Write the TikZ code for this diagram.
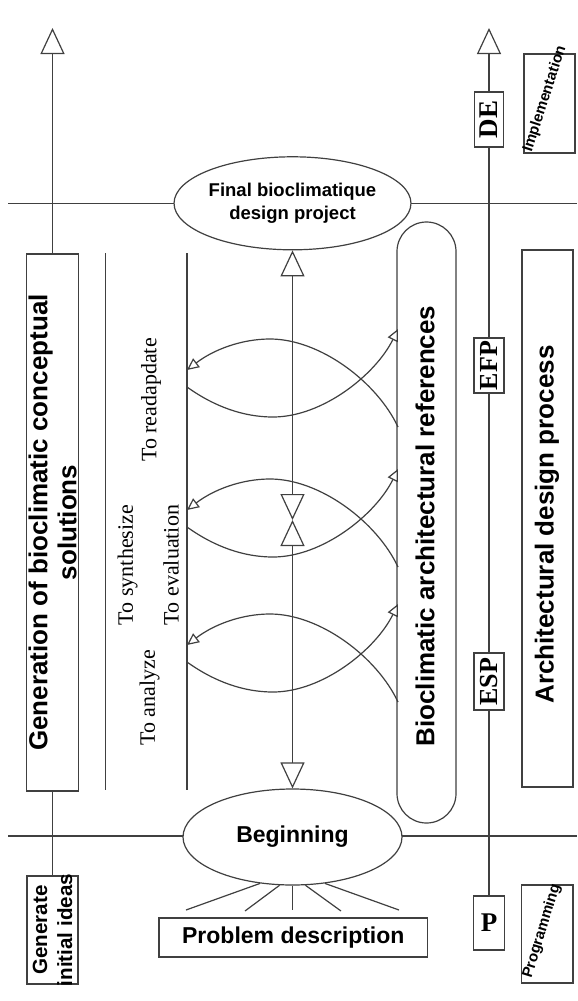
\documentclass[tikz,border=0pt]{standalone}
\usepackage{fontspec}
\setmainfont{Liberation Serif}
\setsansfont{Liberation Sans}
\usetikzlibrary{arrows.meta,shapes.geometric}
\pgfdeclarelayer{bg}
\pgfsetlayers{bg,main}
\newcommand\myss[2]{\sffamily\bfseries\fontsize{#1}{#2}\selectfont}
\newcommand\myrm[1]{\rmfamily\fontsize{#1}{#1}\selectfont}
\newcommand\myrb[1]{\rmfamily\bfseries\fontsize{#1}{#1}\selectfont}
\begin{document}
\begin{tikzpicture}[x=1pt,y=-1pt,
  ln/.style={draw=black!75,line width=1.2pt},
  box/.style={ln,fill=white,inner sep=0pt},
  txt/.style={inner sep=0pt,text=black},
  bigtip/.style={-{Triangle[length=26pt,width=24pt,fill=white]}},
  dbltip/.style={{Triangle[length=26pt,width=24pt,fill=white]}-{Triangle[length=26pt,width=24pt,fill=white]}},
  smalltip/.style={-{Triangle[length=12pt,width=11pt,fill=white]}}]
\useasboundingbox (0,0) rectangle (578,1001);

% ellipses
\node[box,ellipse,minimum width=219,minimum height=93,align=center,font=\myss{18.5}{23}] (final) at (292.5,203.3) {Final bioclimatique\\design project};
\node[box,ellipse,minimum width=219,minimum height=96,font=\myss{23}{27}] (begin) at (292.5,837) {Beginning};

% left column
\node[box,minimum width=51.6,minimum height=537] (gen) at (52.5,522.5) {};
\node[txt,rotate=90,align=center,font=\myss{26}{29}] (gentxt) at (52.5,522.5) {Generation of bioclimatic conceptual\\solutions};
\node[box,minimum width=51,minimum height=108] (ginit) at (52.5,930) {};
\node[txt,rotate=90,align=center,font=\myss{20.6}{25}] (ginittxt) at (52.5,930) {Generate\\initial ideas};

% references box
\node[box,rounded corners=29.5pt,minimum width=59,minimum height=601] (refs) at (426.5,522.5) {};
\node[txt,rotate=90,font=\myss{26}{29}] (refstxt) at (425,526) {Bioclimatic architectural references};

% architectural design process
\node[box,minimum width=51,minimum height=537] (arch) at (547.5,518.5) {};
\node[txt,rotate=90,font=\myss{26}{29}] (archtxt) at (547,524.5) {Architectural design process};

% right axis boxes
\node[box,minimum width=29.5,minimum height=55] (DE) at (489,119.5) {};
\node[txt,rotate=90,font=\myrb{27}] (DEtxt) at (489,119.5) {DE};
\node[box,minimum width=30,minimum height=55] (EFP) at (489,365.5) {};
\node[txt,rotate=90,font=\myrb{26}] (EFPtxt) at (489,365.5) {EFP};
\node[box,minimum width=30,minimum height=57] (ESP) at (489,681.5) {};
\node[txt,rotate=90,font=\myrb{26}] (ESPtxt) at (489,681.5) {ESP};
\node[box,minimum width=31,minimum height=54,font=\myrb{27}] (P) at (489,923) {P};

% implementation / programming
\node[box,minimum width=51,minimum height=99] (impl) at (549.5,103.5) {};
\node[txt,rotate=72,font=\myss{15}{17}] (impltxt) at (545,99) {Implementation};
\node[box,minimum width=51.4,minimum height=98] (prog) at (547.3,934) {};
\node[txt,rotate=73,font=\myss{15}{17}] (progtxt) at (542,931) {Programming};

% problem description
\node[box,minimum width=268.6,minimum height=39,font=\myss{23}{27}] (prob) at (293.3,937.5) {Problem description};

% labels
\node[txt,rotate=90,font=\myrm{22}] (l1) at (151,400) {To readapdate};
\node[txt,rotate=90,font=\myrm{22}] (l2) at (127.5,565) {To synthesize};
\node[txt,rotate=90,font=\myrm{22}] (l3) at (171,565) {To evaluation};
\node[txt,rotate=90,font=\myrm{22}] (l4) at (149.5,698) {To analyze};

% coordinates
\coordinate (hTL) at (8,203.5);
\coordinate (hTR) at (577,203.5);
\coordinate (hBL) at (8,836);
\coordinate (hBR) at (577,836);
\coordinate (ltop) at (52.5,28);
\coordinate (rtop) at (489,28);
\coordinate (mid) at (292.5,520);
\coordinate (v1t) at (105.5,253);
\coordinate (v1b) at (105.5,790);
\coordinate (v2t) at (187,253);
\coordinate (v2b) at (187,790);

\begin{pgfonlayer}{bg}
\fill[white] (0,0) rectangle (578,1001);
\draw[ln] (hTL) -- (hTR);
\draw[ln] (hBL) -- (hBR);
\draw[ln,bigtip] (gen.north) -- (ltop);
\draw[ln] (gen.south) -- (ginit.north);
\draw[ln,bigtip] (P.north) -- (rtop);
\end{pgfonlayer}

\draw[ln] (v1t) -- (v1b);
\draw[ln] (v2t) -- (v2b);

% central axis
\draw[ln,dbltip] (mid) -- (final.south);
\draw[ln,dbltip] (mid) -- (begin.north);

% feedback loops
\foreach \c [count=\i] in {378,518,653} {
  \coordinate (fr\i) at (398,\c+49);
  \coordinate (fl\i) at (187,\c-8);
  \coordinate (gl\i) at (187,\c+9);
  \coordinate (gr\i) at (398,\c-49);
  \draw[ln,smalltip] (fr\i) .. controls (377,\c+4) and (320,\c-39) .. (270,\c-39)
     .. controls (242,\c-39) and (214,\c-28.7) .. (fl\i);
  \draw[ln,smalltip] (gl\i) .. controls (215,\c+29) and (244,\c+39) .. (273,\c+39)
     .. controls (323,\c+39) and (376,\c-4) .. (gr\i);
}

% rays from beginning to problem description
\coordinate (r1) at (186,910);
\coordinate (r2) at (245,911);
\coordinate (r3) at (292.5,910);
\coordinate (r4) at (341,911);
\coordinate (r5) at (399,910);
\draw[ln] (begin.-125) -- (r1);
\draw[ln] (begin.-105) -- (r2);
\draw[ln] (begin.south) -- (r3);
\draw[ln] (begin.-75) -- (r4);
\draw[ln] (begin.-55) -- (r5);
\end{tikzpicture}
\end{document}
